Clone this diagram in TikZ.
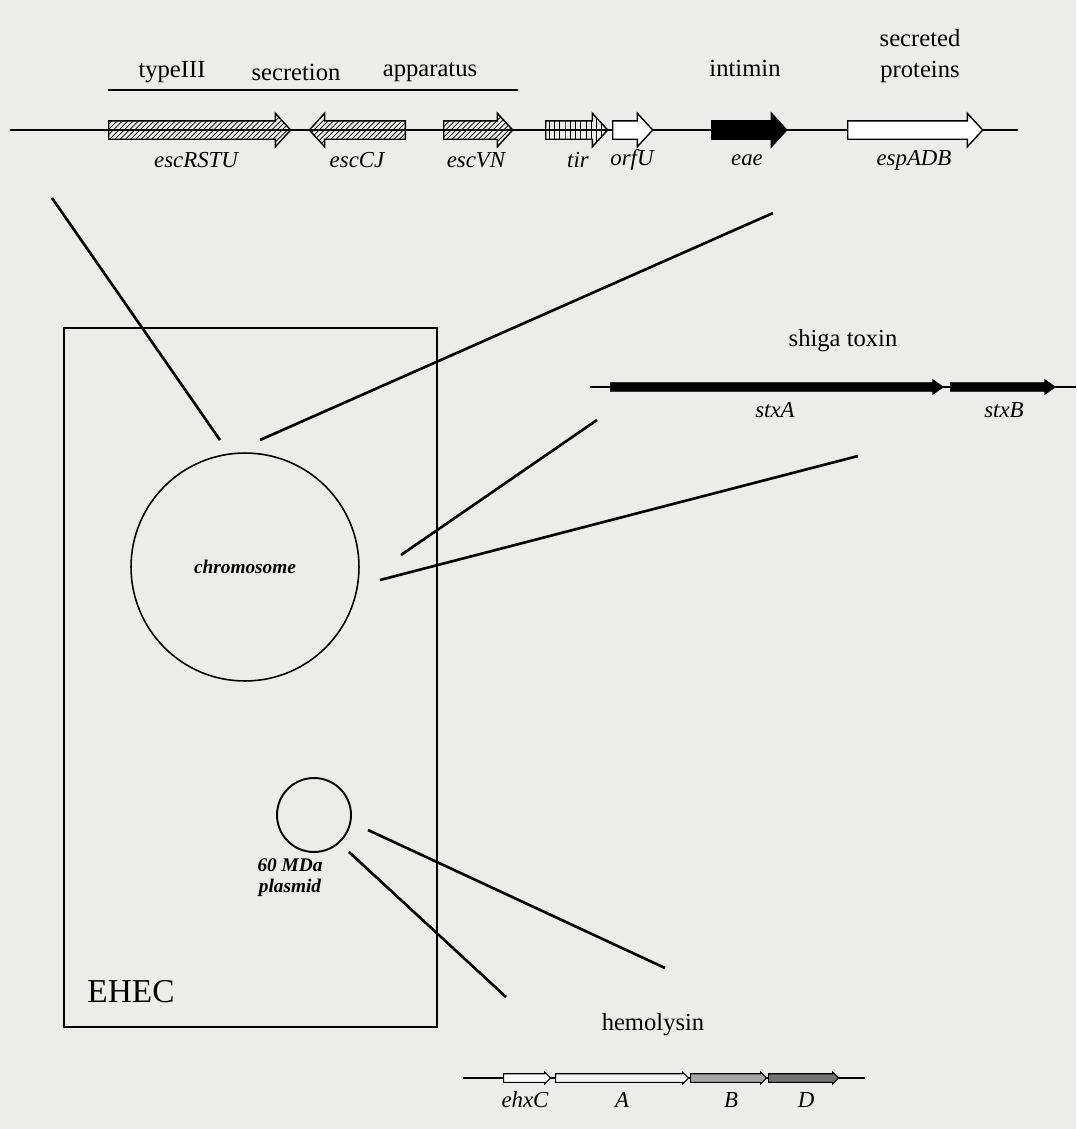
\documentclass[tikz,border=0pt]{standalone}
\usepackage{fontspec}
\setmainfont{Liberation Serif}
\usetikzlibrary{shapes.arrows,patterns}
\definecolor{paper}{RGB}{236,236,234}

\begin{document}
\begin{tikzpicture}[x=0.02cm,y=-0.02cm,
    gene/.style={single arrow,draw,line width=0.8pt,inner xsep=0pt,inner ysep=0.17cm,
                 single arrow head extend=0.15cm,single arrow tip angle=95,anchor=tail},
    toxin/.style={single arrow,draw,fill=black,inner xsep=0pt,inner ysep=0.08cm,
                  single arrow head extend=0.06cm,single arrow tip angle=70,anchor=tail},
    hly/.style={single arrow,draw,line width=0.6pt,inner xsep=0pt,inner ysep=0.075cm,
                single arrow head extend=0.03cm,single arrow tip angle=90,anchor=tail},
    lbl/.style={font=\fontsize{13}{15}\selectfont\itshape},
    ttl/.style={font=\fontsize{14}{16}\selectfont},
    dnaline/.style={line width=1.1pt},
    link/.style={line width=1.5pt}]

  \fill[paper] (0,0) rectangle (1076,1129);

  % LEE region
  \coordinate (lee0) at (10,130);
  \coordinate (lee1) at (1018,130);
  \draw[dnaline] (lee0) -- (lee1);

  \node[ttl] (t3) at (172,72) {typeIII};
  \node[ttl] (t3b) at (296,72) {secretion};
  \node[ttl] (t3c) at (430,72) {apparatus};
  \coordinate (bar0) at (108,90);
  \coordinate (bar1) at (518,90);
  \draw[dnaline] (bar0) -- (bar1);
  \node[ttl] (intimin) at (745,68) {intimin};
  \node[ttl,align=center] (secr) at (920,56) {secreted\\[2pt]proteins};

  \node[gene,pattern=north east lines,minimum height=3.64cm] (escRSTU) at (108,130) {};
  \node[gene,pattern=north east lines,minimum height=1.92cm,shape border rotate=180] (escCJ) at (406,130) {};
  \node[gene,pattern=north east lines,minimum height=1.38cm] (escVN) at (443,130) {};
  \node[gene,pattern=vertical lines,minimum height=1.24cm] (tir) at (545,130) {};
  \node[gene,fill=white,minimum height=0.8cm] (orfU) at (612,130) {};
  \node[gene,fill=black,minimum height=1.5cm] (eae) at (711,130) {};
  \node[gene,fill=white,minimum height=2.7cm] (espADB) at (847,130) {};

  \node[lbl] at (196,160) {escRSTU};
  \node[lbl] at (357,160) {escCJ};
  \node[lbl] at (476,160) {escVN};
  \node[lbl] at (578,160) {tir};
  \node[lbl] at (632,160) {orfU};
  \node[lbl] at (747,160) {eae};
  \node[lbl] at (914,160) {espADB};

  % shiga toxin
  \node[ttl] (shiga) at (843,341) {shiga toxin};
  \coordinate (stx0) at (590,387);
  \coordinate (stx1) at (1076,387);
  \draw[line width=0.8pt] (stx0) -- (stx1);
  \node[toxin,minimum height=6.66cm] (stxA) at (610,387) {};
  \node[toxin,minimum height=2.1cm] (stxB) at (950,387) {};
  \node[lbl] at (775,410) {stxA};
  \node[lbl] at (1004,410) {stxB};

  % hemolysin
  \node[ttl] (hemo) at (653,1025) {hemolysin};
  \coordinate (hly0) at (463,1078);
  \coordinate (hly1) at (865,1078);
  \draw[line width=0.8pt] (hly0) -- (hly1);
  \node[hly,fill=white,minimum height=0.94cm] (ehxC) at (503,1078) {};
  \node[hly,fill=black!4,minimum height=2.66cm] (ehxA) at (555,1078) {};
  \node[hly,fill=black!35,minimum height=1.52cm] (ehxB) at (690,1078) {};
  \node[hly,fill=black!55,minimum height=1.4cm] (ehxD) at (768,1078) {};
  \node[lbl] at (525,1100) {ehxC};
  \node[lbl] at (622,1100) {A};
  \node[lbl] at (731,1100) {B};
  \node[lbl] at (806,1100) {D};

  % the cell
  \draw[line width=1.6pt] (64,328) rectangle (437,1027);
  \node[font=\fontsize{19}{21}\selectfont] (ehec) at (131,992) {EHEC};
  \node[circle,draw,line width=0.9pt,minimum size=4.56cm,
        font=\fontsize{11}{13}\selectfont\bfseries\itshape] (chr) at (245,567) {chromosome};
  \node[circle,draw,line width=1.1pt,minimum size=1.48cm] (pl) at (314,815) {};
  \node[align=center,font=\fontsize{11}{12}\selectfont\bfseries\itshape] (pllbl) at (290,878)
       {60 MDa\\plasmid};

  % connectors
  \coordinate (a0) at (52,198);   \coordinate (a1) at (220,440);
  \coordinate (b0) at (773,213);  \coordinate (b1) at (260,440);
  \coordinate (c0) at (597,420);  \coordinate (c1) at (401,555);
  \coordinate (d0) at (858,456);  \coordinate (d1) at (380,580);
  \coordinate (e0) at (368,830);  \coordinate (e1) at (665,968);
  \coordinate (f0) at (349,852);  \coordinate (f1) at (506,997);
  \draw[link] (a0) -- (a1);
  \draw[link] (b0) -- (b1);
  \draw[link] (c0) -- (c1);
  \draw[link] (d0) -- (d1);
  \draw[link] (e0) -- (e1);
  \draw[link] (f0) -- (f1);
\end{tikzpicture}
\end{document}
